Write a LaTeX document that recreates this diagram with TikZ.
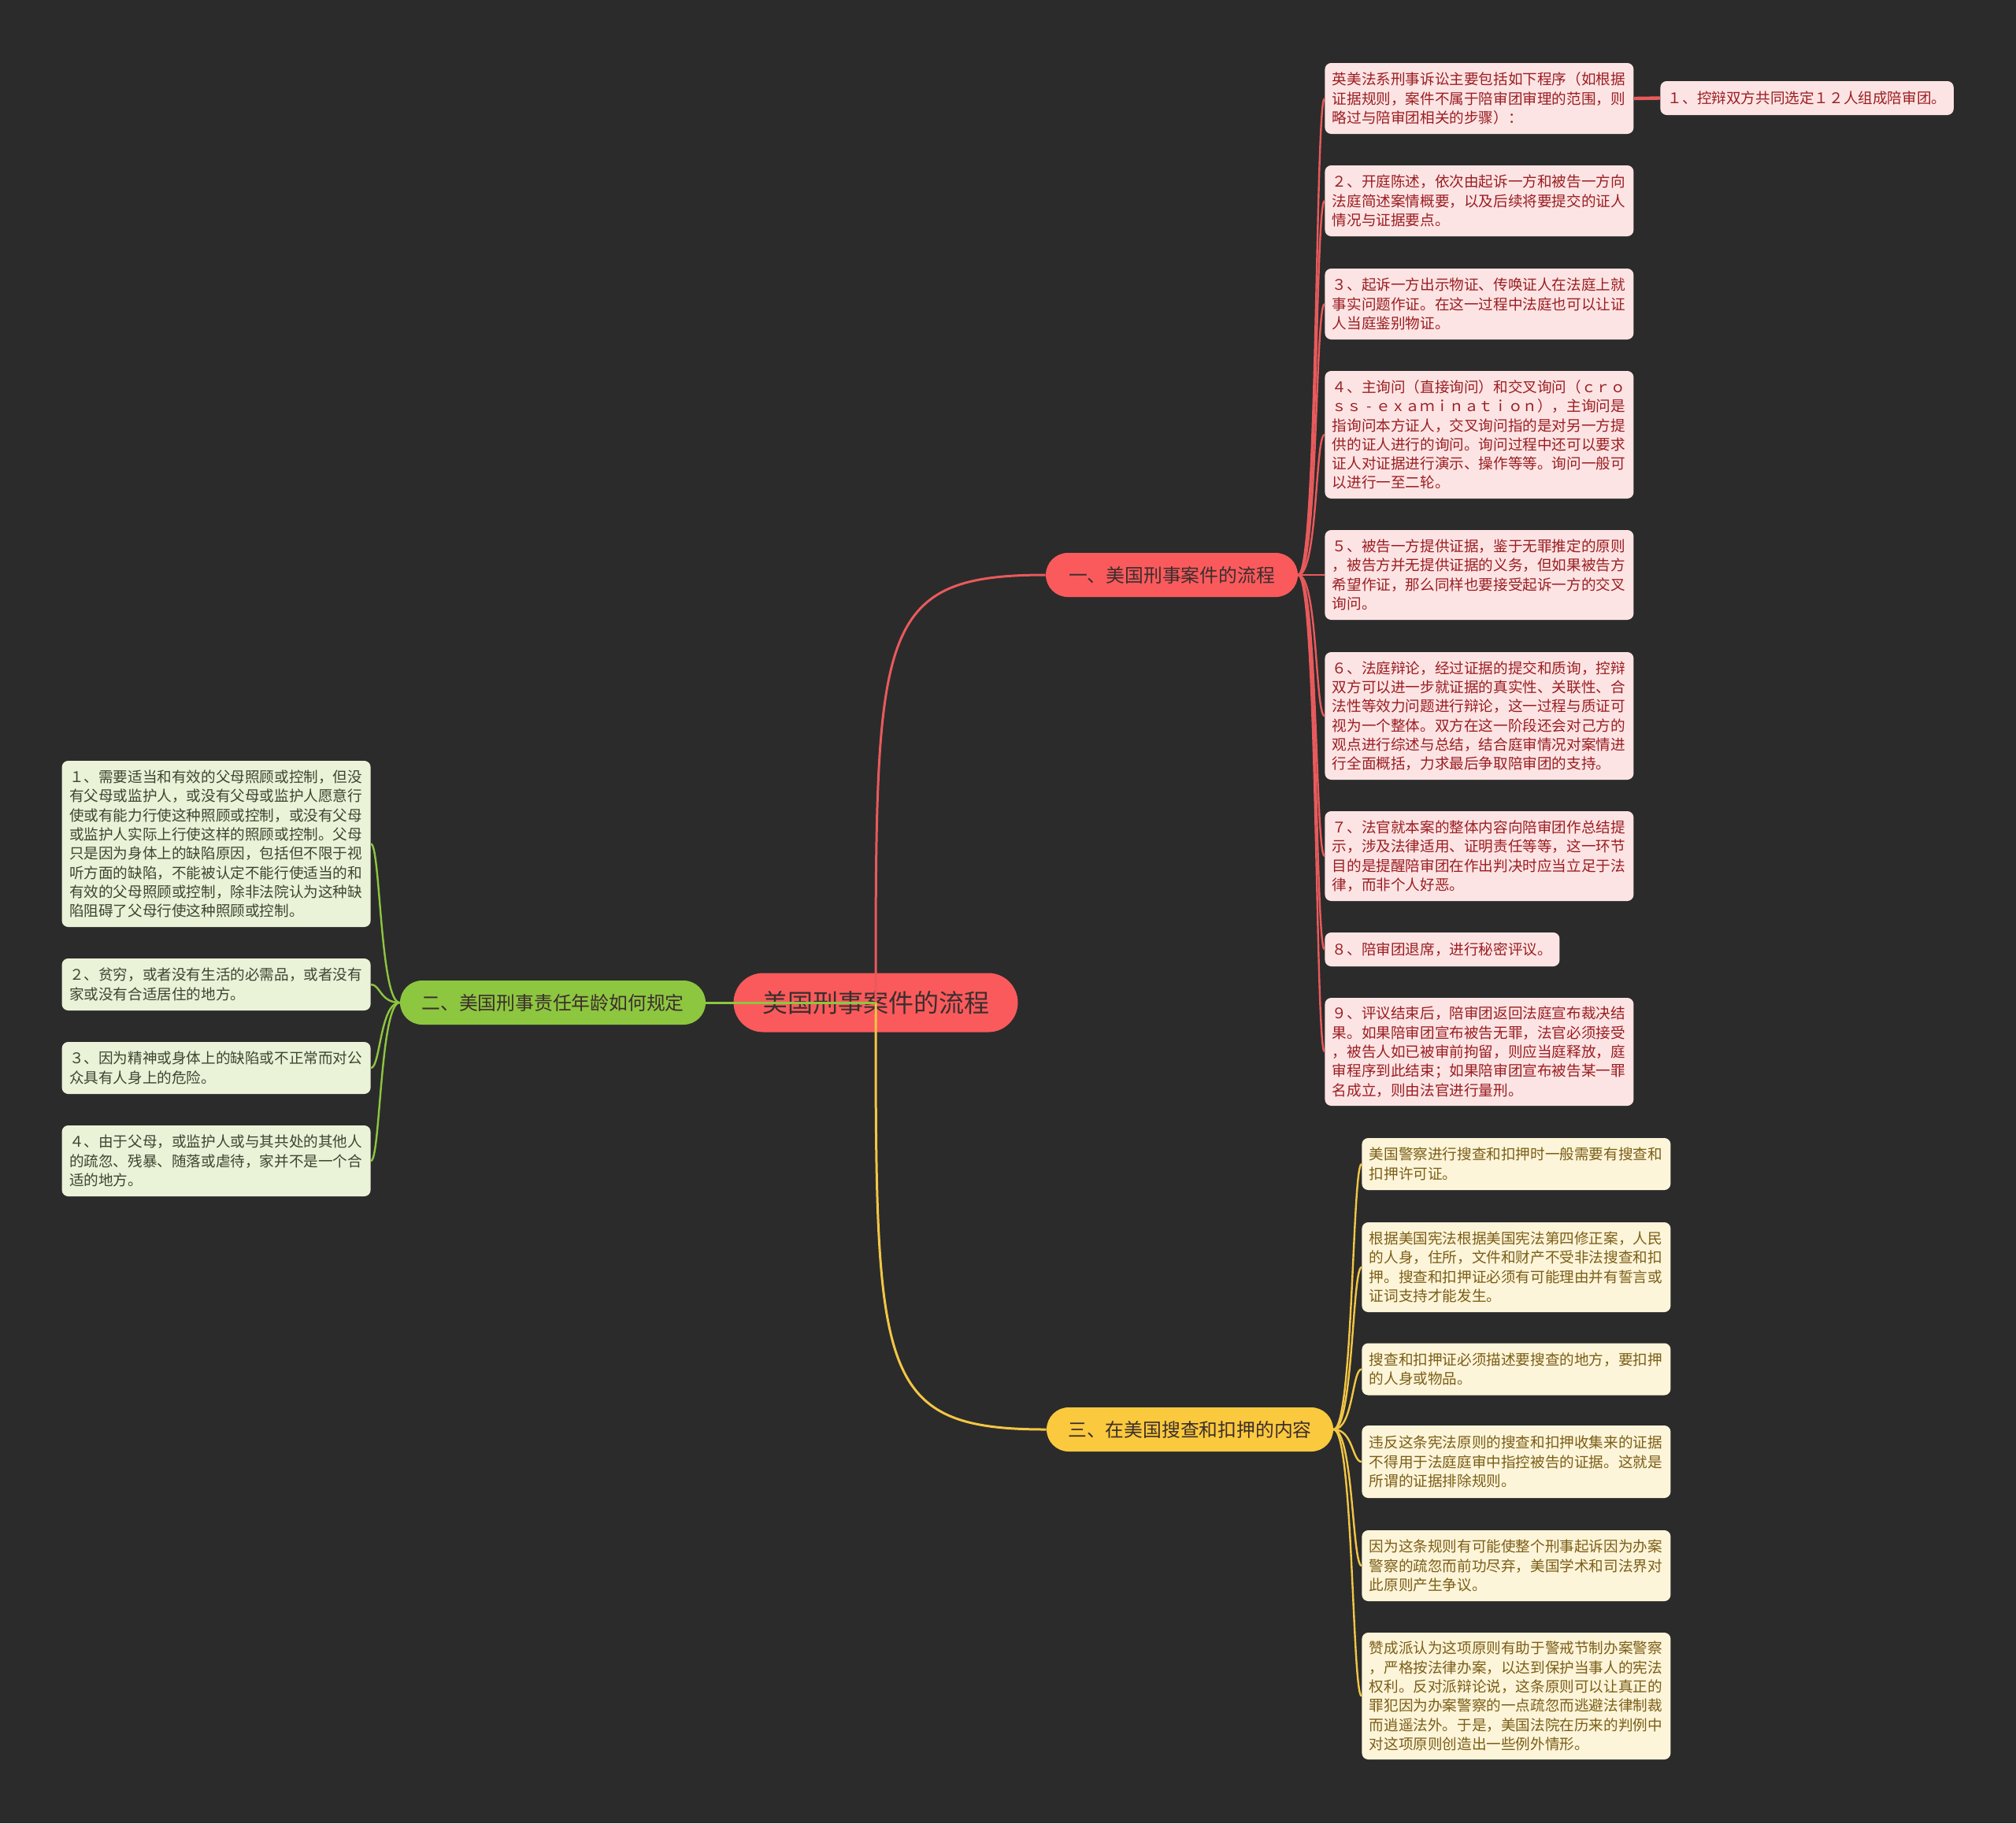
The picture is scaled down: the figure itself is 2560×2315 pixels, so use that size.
\documentclass[tikz,border=0pt]{standalone}
\usepackage{fontspec}
\usetikzlibrary{calc}
\newfontfamily\cjk{Noto Sans CJK SC}
\definecolor{bgc}{HTML}{2B2B2B}
\definecolor{redm}{HTML}{FA5A5C}
\definecolor{redl}{HTML}{E85A5C}
\definecolor{redf}{HTML}{FDE4E4}
\definecolor{redt}{HTML}{9A1E22}
\definecolor{grnm}{HTML}{8DC63F}
\definecolor{grnf}{HTML}{EAF2D8}
\definecolor{grnt}{HTML}{3C4630}
\definecolor{ylwm}{HTML}{FBC93D}
\definecolor{ylwl}{HTML}{F2C645}
\definecolor{ylwf}{HTML}{FDF5D9}
\definecolor{ylwt}{HTML}{7B5E18}
\definecolor{maint}{HTML}{3B2E2E}
\newcommand{\fwhyph}{\makebox[1em]{-}}
\tikzset{
  leafbase/.style={font=\cjk\fontsize{9.3pt}{12.15pt}\selectfont, rounded corners=4pt, inner xsep=4.75pt, inner ysep=1pt, align=left},
  rleaf/.style={leafbase, fill=redf, text=redt, text width=186.5pt, anchor=west},
  rleafs/.style={leafbase, fill=redf, text=redt, anchor=west},
  yleaf/.style={leafbase, fill=ylwf, text=ylwt, text width=186.5pt, anchor=west},
  gleaf/.style={leafbase, fill=grnf, text=grnt, text width=186.5pt, anchor=east},
  centre/.style={font=\cjk\fontsize{16pt}{19pt}\selectfont, fill=redm, text=maint, rounded corners=18.75pt, minimum width=180.5pt, minimum height=37.5pt, inner sep=0pt},
  branch/.style={font=\cjk\fontsize{11.9pt}{14pt}\selectfont, text=maint, rounded corners=14pt, minimum height=28pt, inner sep=0pt},
  rconn/.style={draw=redl, line width=1.2pt},
  gconn/.style={draw=grnm, line width=1.2pt},
  yconn/.style={draw=ylwl, line width=1.2pt},
}
\begin{document}
\begin{tikzpicture}[x=0.5pt,y=-0.5pt]
\fill[bgc] (0,0) rectangle (2560,2315);
\useasboundingbox (0,0) rectangle (2560,2315);

% central and branch nodes
\node[centre] (c) at (1112,1273) {美国刑事案件的流程};
\node[branch, fill=redm, minimum width=160pt] (b1) at (1488,730) {一、美国刑事案件的流程};
\node[branch, fill=grnm, minimum width=194pt] (b2) at (702,1273) {二、美国刑事责任年龄如何规定};
\node[branch, fill=ylwm, minimum width=182pt] (b3) at (1511,1815) {三、在美国搜查和扣押的内容};

% red leaves
\node[rleaf, minimum height=45pt] (r1) at (1682,125) {英美法系刑事诉讼主要包括如下程序（如根据\\证据规则，案件不属于陪审团审理的范围，则\\略过与陪审团相关的步骤）：};
\node[rleafs, minimum height=21.5pt] (c1) at (2108,124.5) {１、控辩双方共同选定１２人组成陪审团。};
\node[rleaf, minimum height=45pt] (r2) at (1682,255) {２、开庭陈述，依次由起诉一方和被告一方向\\法庭简述案情概要，以及后续将要提交的证人\\情况与证据要点。};
\node[rleaf, minimum height=45pt] (r3) at (1682,386) {３、起诉一方出示物证、传唤证人在法庭上就\\事实问题作证。在这一过程中法庭也可以让证\\人当庭鉴别物证。};
\node[rleaf, minimum height=81pt] (r4) at (1682,552) {４、主询问（直接询问）和交叉询问（ｃｒｏ\\ｓｓ\fwhyph ｅｘａｍｉｎａｔｉｏｎ），主询问是\\指询问本方证人，交叉询问指的是对另一方提\\供的证人进行的询问。询问过程中还可以要求\\证人对证据进行演示、操作等等。询问一般可\\以进行一至二轮。};
\node[rleaf, minimum height=57pt] (r5) at (1682,730) {５、被告一方提供证据，鉴于无罪推定的原则\\，被告方并无提供证据的义务，但如果被告方\\希望作证，那么同样也要接受起诉一方的交叉\\询问。};
\node[rleaf, minimum height=81pt] (r6) at (1682,909) {６、法庭辩论，经过证据的提交和质询，控辩\\双方可以进一步就证据的真实性、关联性、合\\法性等效力问题进行辩论，这一过程与质证可\\视为一个整体。双方在这一阶段还会对己方的\\观点进行综述与总结，结合庭审情况对案情进\\行全面概括，力求最后争取陪审团的支持。};
\node[rleaf, minimum height=57pt] (r7) at (1682,1087) {７、法官就本案的整体内容向陪审团作总结提\\示，涉及法律适用、证明责任等等，这一环节\\目的是提醒陪审团在作出判决时应当立足于法\\律，而非个人好恶。};
\node[rleafs, minimum height=21.5pt] (r8) at (1682,1205.5) {８、陪审团退席，进行秘密评议。};
\node[rleaf, minimum height=68.5pt] (r9) at (1682,1335.5) {９、评议结束后，陪审团返回法庭宣布裁决结\\果。如果陪审团宣布被告无罪，法官必须接受\\，被告人如已被审前拘留，则应当庭释放，庭\\审程序到此结束；如果陪审团宣布被告某一罪\\名成立，则由法官进行量刑。};

% yellow leaves
\node[yleaf, minimum height=33pt] (y1) at (1729,1478) {美国警察进行搜查和扣押时一般需要有搜查和\\扣押许可证。};
\node[yleaf, minimum height=57pt] (y2) at (1729,1609) {根据美国宪法根据美国宪法第四修正案，人民\\的人身，住所，文件和财产不受非法搜查和扣\\押。搜查和扣押证必须有可能理由并有誓言或\\证词支持才能发生。};
\node[yleaf, minimum height=33pt] (y3) at (1729,1738.5) {搜查和扣押证必须描述要搜查的地方，要扣押\\的人身或物品。};
\node[yleaf, minimum height=46pt] (y4) at (1729,1856) {违反这条宪法原则的搜查和扣押收集来的证据\\不得用于法庭庭审中指控被告的证据。这就是\\所谓的证据排除规则。};
\node[yleaf, minimum height=45pt] (y5) at (1729,1988) {因为这条规则有可能使整个刑事起诉因为办案\\警察的疏忽而前功尽弃，美国学术和司法界对\\此原则产生争议。};
\node[yleaf, minimum height=80.5pt] (y6) at (1729,2153.5) {赞成派认为这项原则有助于警戒节制办案警察\\，严格按法律办案，以达到保护当事人的宪法\\权利。反对派辩论说，这条原则可以让真正的\\罪犯因为办案警察的一点疏忽而逃避法律制裁\\而逍遥法外。于是，美国法院在历来的判例中\\对这项原则创造出一些例外情形。};

% green leaves
\node[gleaf, minimum height=105.5pt] (g1) at (471,1071.5) {１、需要适当和有效的父母照顾或控制，但没\\有父母或监护人，或没有父母或监护人愿意行\\使或有能力行使这种照顾或控制，或没有父母\\或监护人实际上行使这样的照顾或控制。父母\\只是因为身体上的缺陷原因，包括但不限于视\\听方面的缺陷，不能被认定不能行使适当的和\\有效的父母照顾或控制，除非法院认为这种缺\\陷阻碍了父母行使这种照顾或控制。};
\node[gleaf, minimum height=33pt] (g2) at (471,1250) {２、贫穷，或者没有生活的必需品，或者没有\\家或没有合适居住的地方。};
\node[gleaf, minimum height=33pt] (g3) at (471,1356) {３、因为精神或身体上的缺陷或不正常而对公\\众具有人身上的危险。};
\node[gleaf, minimum height=45pt] (g4) at (471,1474) {４、由于父母，或监护人或与其共处的其他人\\的疏忽、残暴、随落或虐待，家并不是一个合\\适的地方。};

% main connectors (drawn over the central node)
\draw[draw=redl, line width=1.5pt] (c.center) .. controls ($(c.center |- b1.west)+(0,70)$) and (c.center |- b1.west) .. (b1.west);
\draw[draw=ylwl, line width=1.5pt] (c.center) .. controls ($(c.center |- b3.west)+(0,-70)$) and (c.center |- b3.west) .. (b3.west);
\draw[draw=grnm, line width=1.5pt] (c.center) -- (b2.east);

% red leaf connectors
\foreach \n in {r1,r2,r3,r4,r5,r6,r7,r8,r9}{
  \draw[rconn] (b1.east) .. controls +(25,0) and +(-12,0) .. (\n.west);
}
\draw[draw=redl, line width=2.2pt] (r1.east) -- (c1.west);

% yellow leaf connectors
\foreach \n in {y1,y2,y3,y4,y5,y6}{
  \draw[yconn] (b3.east) .. controls +(25,0) and +(-12,0) .. (\n.west);
}

% green leaf connectors
\foreach \n in {g1,g2,g3,g4}{
  \draw[gconn] (b2.west) .. controls +(-25,0) and +(12,0) .. (\n.east);
}
\end{tikzpicture}
\end{document}
